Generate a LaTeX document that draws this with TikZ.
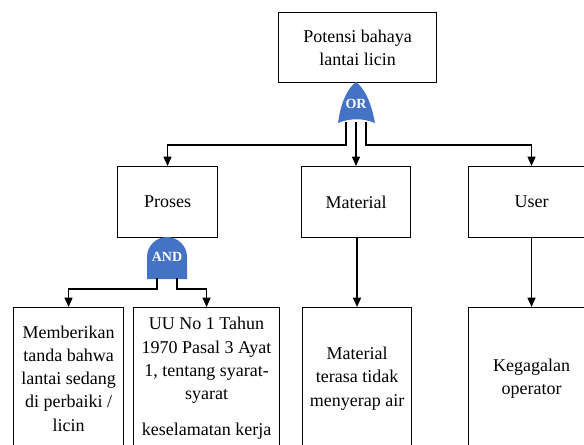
\documentclass[tikz,border=0pt]{standalone}
\usepackage{fontspec}
\setmainfont{Liberation Serif}
\usetikzlibrary{arrows.meta}
\definecolor{gateblue}{HTML}{4472C4}
\begin{document}
\begin{tikzpicture}[x=0.75pt,y=-0.75pt,
  box/.style={draw=black,line width=0.8pt,rectangle,inner sep=0pt,anchor=north west,
    align=center,font=\fontsize{13.5}{17.4}\selectfont},
  link/.style={line width=1pt},
  arrowlink/.style={line width=1pt,-{Triangle[width=6pt,length=7pt]}},
  gate/.style={fill=gateblue,draw=none},
  gatelabel/.style={text=white,font=\fontsize{10.5}{12}\selectfont\bfseries,inner sep=0pt}]
\useasboundingbox (0,0) rectangle (584,444);
\clip (0,0) rectangle (584,444);

% top event
\node[box,minimum width=158*0.75pt,minimum height=70*0.75pt] (top) at (278,12)
  {Potensi bahaya\\lantai licin};

% OR gate under the top event
\path[gate] (338,123) .. controls (341,101) and (348,88) .. (356,82)
  .. controls (364,88) and (371,101) .. (375,123)
  .. controls (363,118) and (350,118) .. (338,123) -- cycle;
\node[gatelabel] (orgate) at (356,104) {OR};

% second level
\node[box,minimum width=100*0.75pt,minimum height=71*0.75pt] (proses) at (117,166) {Proses};
\node[box,minimum width=109*0.75pt,minimum height=71*0.75pt] (material) at (301,166) {Material};
\node[box,minimum width=126*0.75pt,minimum height=71*0.75pt] (user) at (468,166) {User};

% AND gate under Proses
\path[gate] (147,279) -- (147,257) .. controls (147,246) and (156,237) .. (167,237)
  .. controls (178,237) and (187,246) .. (187,257) -- (187,279) -- cycle;
\node[gatelabel] (andgate) at (167,257) {AND};

% bottom level
\node[box,minimum width=110*0.75pt,minimum height=142*0.75pt] (tanda) at (13,307)
  {Memberikan\\tanda bahwa\\lantai sedang\\di perbaiki /\\licin};
\node[box,minimum width=146*0.75pt,minimum height=142*0.75pt] (uu) at (133,307)
  {UU No 1 Tahun\\1970 Pasal 3 Ayat\\1, tentang syarat-\\syarat\\[10pt]keselamatan kerja};
\node[box,minimum width=109*0.75pt,minimum height=142*0.75pt] (serap) at (302,307)
  {Material\\terasa tidak\\menyerap air};
\node[box,minimum width=126*0.75pt,minimum height=142*0.75pt] (gagal) at (468,307)
  {Kegagalan\\operator};

% gate outputs
\coordinate (orL) at (346,122);
\coordinate (orM) at (356,122);
\coordinate (orR) at (366,122);
\coordinate (andL) at (157,278);
\coordinate (andR) at (177,278);

\draw[arrowlink] (orL) -- (346,145) -| (proses.north);
\draw[arrowlink] (orM) -- (orM |- material.north);
\draw[arrowlink] (orR) -- (366,145) -| (user.north);
\draw[arrowlink] (andL) -- (157,289) -| (tanda.north);
\draw[arrowlink] (andR) -- (177,289) -| (uu.north);
\draw[arrowlink] (material.south -| serap.north) -- (serap.north);
\draw[arrowlink] (user.south) -- (gagal.north);
\end{tikzpicture}
\end{document}
